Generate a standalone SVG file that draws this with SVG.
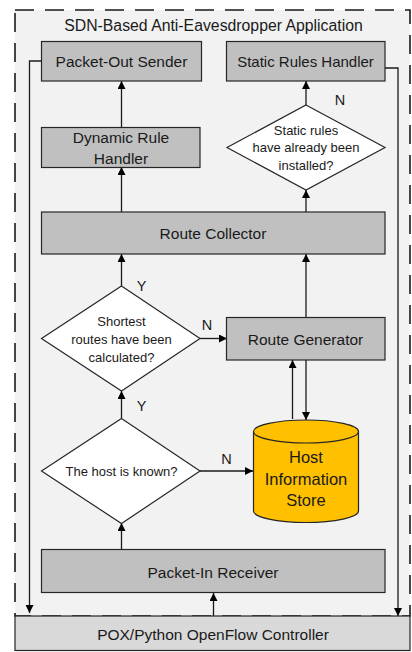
<svg xmlns="http://www.w3.org/2000/svg" width="412" height="652" viewBox="0 0 412 652">
<style>
.box{fill:#c0c0c0;stroke:#262626;stroke-width:1.2}
.dia{fill:#ffffff;stroke:#262626;stroke-width:1.2}
.t{font-family:"Liberation Sans",Arial,sans-serif;fill:#1a1a1a;text-anchor:middle;dominant-baseline:central}
.ln{fill:none;stroke:#1a1a1a;stroke-width:1.3}
</style>
<defs>
<marker id="ah" viewBox="0 0 10 10" refX="10" refY="5" markerWidth="8" markerHeight="8" markerUnits="userSpaceOnUse" orient="auto">
<path d="M0,0 L10,5 L0,10 z" fill="#000"/>
</marker>
</defs>
<rect width="412" height="652" fill="#ffffff"/>
<g id="app">
<rect x="15" y="10" width="395" height="606" fill="#f2f2f2" stroke="#1a1a1a" stroke-width="1.6" stroke-dasharray="19,11"/>
<text class="t" x="213.5" y="25" font-size="15.8">SDN-Based Anti-Eavesdropper Application</text>
</g>
<g id="connectors">
<path class="ln" d="M41,61 H29.5 V613" marker-end="url(#ah)"/>
<path class="ln" d="M385,68 H398 V616" marker-end="url(#ah)"/>
<path class="ln" d="M121.5,127 V81" marker-end="url(#ah)"/>
<path class="ln" d="M306,105 V81" marker-end="url(#ah)"/>
<path class="ln" d="M121.5,212 V167" marker-end="url(#ah)"/>
<path class="ln" d="M306,212 V190" marker-end="url(#ah)"/>
<path class="ln" d="M121.5,286 V254" marker-end="url(#ah)"/>
<path class="ln" d="M306,317 V254" marker-end="url(#ah)"/>
<path class="ln" d="M200,338.5 H227" marker-end="url(#ah)"/>
<path class="ln" d="M121.5,418 V391" marker-end="url(#ah)"/>
<path class="ln" d="M292.5,419 V360" marker-end="url(#ah)"/>
<path class="ln" d="M306,360 V420" marker-end="url(#ah)"/>
<path class="ln" d="M200,471 H253" marker-end="url(#ah)"/>
<path class="ln" d="M121.5,549 V523" marker-end="url(#ah)"/>
<path class="ln" d="M213.5,616 V593" marker-end="url(#ah)"/>
<text class="t" x="340" y="100" font-size="14.5">N</text>
<text class="t" x="141.5" y="285.5" font-size="14.5">Y</text>
<text class="t" x="207" y="324.5" font-size="14.5">N</text>
<text class="t" x="141.5" y="405.5" font-size="14.5">Y</text>
<text class="t" x="226.5" y="458.5" font-size="14.5">N</text>
</g>
<g id="packet-out-sender">
<rect class="box" x="41.5" y="41.5" width="160" height="39.5"/>
<text class="t" x="121.5" y="61.5" font-size="15.5">Packet-Out Sender</text>
</g>
<g id="static-rules-handler">
<rect class="box" x="226.5" y="41.5" width="158.5" height="39.5"/>
<text class="t" x="305.5" y="61.5" font-size="15">Static Rules Handler</text>
</g>
<g id="dynamic-rule-handler">
<rect class="box" x="41.5" y="127.5" width="158.5" height="40"/>
<text class="t" x="121" y="137" font-size="15.5">Dynamic Rule</text>
<text class="t" x="121" y="158" font-size="15.5">Handler</text>
</g>
<g id="static-rules-decision">
<polygon class="dia" points="306,105 385,147.5 306,190 227,147.5"/>
<text class="t" x="306" y="130" font-size="13">Static rules</text>
<text class="t" x="306" y="147.5" font-size="13">have already been</text>
<text class="t" x="306" y="165.5" font-size="13">installed?</text>
</g>
<g id="route-collector">
<rect class="box" x="41.5" y="212" width="343.5" height="42"/>
<text class="t" x="213" y="233" font-size="15.5">Route Collector</text>
</g>
<g id="shortest-decision">
<polygon class="dia" points="121.5,286 200,338.5 121.5,391 41.5,338.5"/>
<text class="t" x="121.5" y="321.5" font-size="13">Shortest</text>
<text class="t" x="121.5" y="339.5" font-size="13">routes have been</text>
<text class="t" x="121.5" y="357" font-size="13">calculated?</text>
</g>
<g id="route-generator">
<rect class="box" x="226.5" y="317.5" width="158.5" height="42.5"/>
<text class="t" x="305.5" y="339" font-size="15.5">Route Generator</text>
</g>
<g id="host-decision">
<polygon class="dia" points="121.5,418.5 200,471 121.5,523.5 41.5,471"/>
<text class="t" x="121.5" y="471.5" font-size="13">The host is known?</text>
</g>
<g id="host-information-store">
<path d="M253.5,431.5 V511 A52.5,11.5 0 0 0 358.5,511 V431.5" fill="#ffc000" stroke="#262626" stroke-width="1.2"/>
<ellipse cx="306" cy="431.5" rx="52.5" ry="11.5" fill="#ffc000" stroke="#262626" stroke-width="1.2"/>
<text class="t" x="306" y="457" font-size="16.5">Host</text>
<text class="t" x="306" y="478.5" font-size="16.5">Information</text>
<text class="t" x="306" y="500" font-size="16.5">Store</text>
</g>
<g id="packet-in-receiver">
<rect class="box" x="41.5" y="549.5" width="343.5" height="43"/>
<text class="t" x="213" y="572" font-size="15.5">Packet-In Receiver</text>
</g>
<g id="controller">
<rect x="15" y="616" width="395" height="34.5" fill="#d9d9d9" stroke="#262626" stroke-width="1.2"/>
<text class="t" x="213" y="634" font-size="15.5">POX/Python OpenFlow Controller</text>
</g>
</svg>
